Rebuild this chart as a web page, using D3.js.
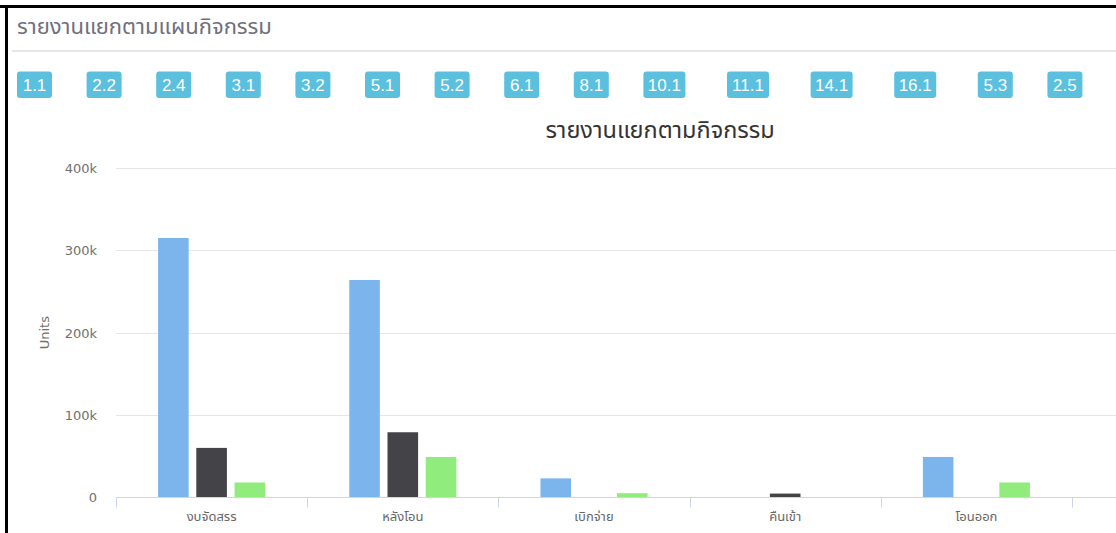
<!DOCTYPE html>
<html>
<head>
<meta charset="utf-8">
<script src="https://cdn.jsdelivr.net/npm/d3@7/dist/d3.min.js"></script>
<style>
  html, body { margin: 0; padding: 0; background: #fff; }
  svg { display: block; }
  text { font-family: Tahoma, "Noto Sans Thai", "DejaVu Sans", "Liberation Sans", sans-serif; }
</style>
</head>
<body>
<svg id="chart" width="1116" height="533"></svg>
<script>
// Activity-plan shortcut buttons
const planCodes = ["1.1", "2.2", "2.4", "3.1", "3.2", "5.1", "5.2", "6.1", "8.1",
                   "10.1", "11.1", "14.1", "16.1", "5.3", "2.5"];

// Report categories (x axis)
const categories = ["งบจัดสรร", "หลังโอน", "เบิกจ่าย", "คืนเข้า", "โอนออก"];

// Three series per category
const seriesA = [315000, 264000, 23000, 0, 49000];
const seriesB = [60000, 79000, 0, 4500, 0];
const seriesC = [18000, 49000, 5000, 0, 18000];

const seriesKeys = ["A", "B", "C"];
const seriesColors = ["#7cb5ec", "#434348", "#90ed7d"];

// Y axis ticks
const yTicks = [0, 100000, 200000, 300000, 400000];
const yTickLabels = ["0", "100k", "200k", "300k", "400k"];

const panelTitle = "รายงานแยกตามแผนกิจกรรม";
const chartTitle = "รายงานแยกตามกิจกรรม";
const yAxisTitle = "Units";

const svg = d3.select("#chart");
const W = 1116, H = 533;

// ---- panel frame and header ----
svg.append("rect").attr("x", 0).attr("y", 0).attr("width", W).attr("height", H).attr("fill", "#fff");

svg.append("text")
  .attr("x", 17).attr("y", 34)
  .attr("font-size", 22)
  .attr("fill", "#6f6f7d")
  .text(panelTitle);

svg.append("line")
  .attr("x1", 12).attr("x2", W).attr("y1", 51).attr("y2", 51)
  .attr("stroke", "#e6e6e6").attr("stroke-width", 2);

// ---- buttons row ----
const btnG = svg.append("g");
let bx = 17;
planCodes.forEach(code => {
  const w = 7 * code.length + 14;
  const g = btnG.append("g");
  g.append("rect")
    .attr("x", bx).attr("width", w)
    .attr("y", 71.5).attr("height", 26.5).attr("rx", 3).attr("ry", 3)
    .attr("fill", "#5bc0de");
  g.append("text")
    .attr("x", bx + w / 2)
    .attr("y", 91)
    .attr("font-size", 17)
    .attr("fill", "#fff")
    .attr("text-anchor", "middle")
    .style("font-family", "'Liberation Sans Narrow', 'Liberation Sans', Arial, sans-serif")
    .text(code);
  bx += w * 2 - 0.4;
});

// ---- chart ----
const plot = { left: 116, top: 168, bottom: 497.3 };
const catWidth = 191.2;

const x = d3.scaleBand()
  .domain(categories)
  .range([plot.left, plot.left + catWidth * categories.length])
  .paddingInner(0).paddingOuter(0);

const xInner = d3.scaleBand()
  .domain(seriesKeys)
  .range([x.bandwidth() * 0.2, x.bandwidth() * 0.8])
  .paddingInner(0.2).paddingOuter(0.1);

const y = d3.scaleLinear().domain([0, 400000]).range([plot.bottom, plot.top]);

// chart title
svg.append("text")
  .attr("x", 660).attr("y", 138)
  .attr("text-anchor", "middle")
  .attr("font-size", 23.5)
  .attr("fill", "#333333")
  .text(chartTitle);

// grid lines
svg.append("g")
  .selectAll("line")
  .data(yTicks.filter(v => v > 0))
  .join("line")
  .attr("x1", plot.left).attr("x2", W)
  .attr("y1", d => Math.round(y(d)) + 0.5).attr("y2", d => Math.round(y(d)) + 0.5)
  .attr("stroke", "#e6e6e6").attr("stroke-width", 1);

// y axis labels
svg.append("g")
  .selectAll("text")
  .data(yTicks)
  .join("text")
  .attr("x", 97)
  .attr("y", d => y(d) + 5)
  .attr("text-anchor", "end")
  .attr("font-size", 13)
  .attr("fill", "#707070")
  .style("font-family", "'DejaVu Sans', Verdana, sans-serif")
  .text((d, i) => yTickLabels[i]);

// y axis title
svg.append("text")
  .attr("transform", `translate(49,${(plot.top + plot.bottom) / 2}) rotate(-90)`)
  .attr("text-anchor", "middle")
  .attr("font-size", 13)
  .attr("fill", "#707070")
  .style("font-family", "'DejaVu Sans', Verdana, sans-serif")
  .text(yAxisTitle);

// bars
const rows = categories.map((c, i) => ({
  cat: c,
  values: [seriesA[i], seriesB[i], seriesC[i]]
}));

const groups = svg.append("g")
  .selectAll("g")
  .data(rows)
  .join("g")
  .attr("transform", d => `translate(${x(d.cat)},0)`);

groups.selectAll("rect")
  .data(d => d.values.map((v, k) => ({ key: seriesKeys[k], value: v, color: seriesColors[k] })))
  .join("rect")
  .filter(d => d.value > 0)
  .attr("x", d => xInner(d.key))
  .attr("width", xInner.bandwidth())
  .attr("y", d => y(d.value))
  .attr("height", d => y(0) - y(d.value))
  .attr("fill", d => d.color);

// x axis line (runs to the edge of the panel)
const axisY = Math.round(y(0)) + 0.5;
svg.append("line")
  .attr("x1", plot.left).attr("x2", W)
  .attr("y1", axisY).attr("y2", axisY)
  .attr("stroke", "#ccd6eb").attr("stroke-width", 1);

// tick marks at category boundaries
const boundaries = categories.map(c => x(c)).concat([x(categories[categories.length - 1]) + x.bandwidth()]);
svg.append("g")
  .selectAll("line")
  .data(boundaries)
  .join("line")
  .attr("x1", d => Math.round(d) + 0.5).attr("x2", d => Math.round(d) + 0.5)
  .attr("y1", axisY).attr("y2", axisY + 10)
  .attr("stroke", "#ccd6eb").attr("stroke-width", 1);

// category labels
svg.append("g")
  .selectAll("text")
  .data(categories)
  .join("text")
  .attr("x", d => x(d) + x.bandwidth() / 2)
  .attr("y", 521)
  .attr("text-anchor", "middle")
  .attr("font-size", 13)
  .attr("fill", "#666666")
  .text(d => d);

// outer border of the page panel
svg.append("line").attr("x1", 0).attr("x2", W).attr("y1", 6.5).attr("y2", 6.5)
  .attr("stroke", "#000").attr("stroke-width", 3);
svg.append("line").attr("x1", 6.5).attr("x2", 6.5).attr("y1", 5).attr("y2", H)
  .attr("stroke", "#000").attr("stroke-width", 3);
</script>
</body>
</html>
